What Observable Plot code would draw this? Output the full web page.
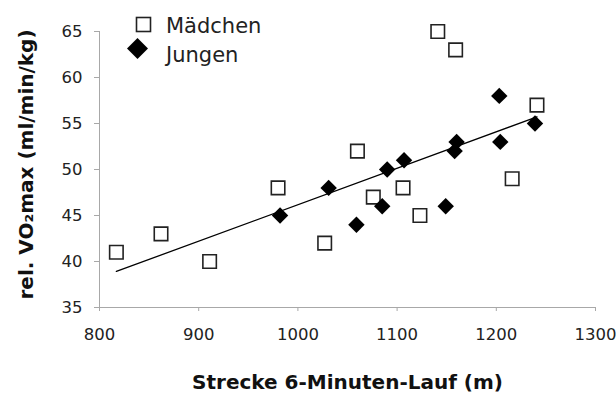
<!DOCTYPE html>
<html><head><meta charset="utf-8">
<script src="https://cdn.jsdelivr.net/npm/d3@7"></script>
<script src="https://cdn.jsdelivr.net/npm/@observablehq/plot@0.6"></script>
<style>
body{margin:0;background:#fff;}
#wrap{position:relative;width:616px;height:394px;}
#legend{position:absolute;left:0;top:0;pointer-events:none;}
</style></head><body><div id="wrap"></div>
<script>
const girlsX = [817, 862, 911, 980, 1027, 1060, 1076, 1106, 1123, 1141, 1159, 1216, 1241];
const girlsY = [41, 43, 40, 48, 42, 52, 47, 48, 45, 65, 63, 49, 57];
const boysX = [982, 1031, 1059, 1085, 1090, 1107, 1149, 1158, 1160, 1203, 1204, 1239];
const boysY = [45, 48, 44, 46, 50, 51, 46, 52, 53, 58, 53, 55];
const xTicks = [800, 900, 1000, 1100, 1200, 1300];
const yTicks = [35, 40, 45, 50, 55, 60, 65];
const groups = ["Mädchen", "Jungen"];
const xTitle = "Strecke 6-Minuten-Lauf (m)";
const yTitle = "rel. VO₂max (ml/min/kg)";

const girls = girlsX.map((x, i) => ({x, y: girlsY[i], g: groups[0]}));
const boys = boysX.map((x, i) => ({x, y: boysY[i], g: groups[1]}));
const all = girls.concat(boys);

const axisGray = "#a8a8a8";
const chart = Plot.plot({
  width: 616, height: 394,
  marginTop: 31, marginBottom: 87, marginLeft: 99, marginRight: 21,
  style: {fontFamily: "DejaVu Sans", fontSize: "16px", color: "#222", background: "#fff", overflow: "visible"},
  x: {domain: [800, 1300]},
  y: {domain: [35, 65]},
  marks: [
    Plot.ruleY([35], {stroke: axisGray}),
    Plot.ruleX([800], {stroke: axisGray}),
    Plot.axisX({ticks: xTicks, tickFormat: d => String(d), tickSize: 4, tickPadding: 17, stroke: axisGray, fill: "#222", label: null, fontSize: 16.5}),
    Plot.axisY({ticks: yTicks, tickFormat: d => String(d), tickSize: 5, tickPadding: 12, stroke: axisGray, fill: "#222", label: null, fontSize: 16.5}),
    Plot.linearRegressionY(all, {x: "x", y: "y", ci: 0, stroke: "#000", strokeWidth: 1.3}),
    Plot.dot(girls, {x: "x", y: "y", symbol: "square", r: 7.6, stroke: "#222", strokeWidth: 1.6, fill: "#fff"}),
    Plot.dot(boys, {x: "x", y: "y", symbol: "diamond2", r: 7.4, fill: "#000", stroke: "none"}),
    Plot.text([xTitle], {text: d => d, frameAnchor: "bottom", textAnchor: "middle", lineAnchor: "middle", dy: 75, fontWeight: "bold", fontSize: 20, fill: "#111"}),
    Plot.text([yTitle], {text: d => d, frameAnchor: "left", textAnchor: "middle", lineAnchor: "middle", dx: -73, dy: -5, rotate: -90, fontWeight: "bold", fontSize: 20, fill: "#111"})
  ]
});
const wrap = document.getElementById("wrap");
wrap.appendChild(chart);

// legend overlay
const leg = d3.select(wrap).append("svg").attr("id", "legend").attr("width", 616).attr("height", 394)
  .style("font-family", "DejaVu Sans").style("font-size", "21px");
leg.append("rect").attr("x", 136.5).attr("y", 17.5).attr("width", 14).attr("height", 14)
  .attr("fill", "#fff").attr("stroke", "#222").attr("stroke-width", 1.6);
leg.append("path").attr("d", d3.symbol(d3.symbolDiamond2, 280)()).attr("transform", "translate(137.5,48.5)").attr("fill", "#000");
leg.append("text").attr("x", 166).attr("y", 32.5).attr("fill", "#222").text(groups[0]);
leg.append("text").attr("x", 166).attr("y", 62).attr("fill", "#222").text(groups[1]);
</script></body></html>
